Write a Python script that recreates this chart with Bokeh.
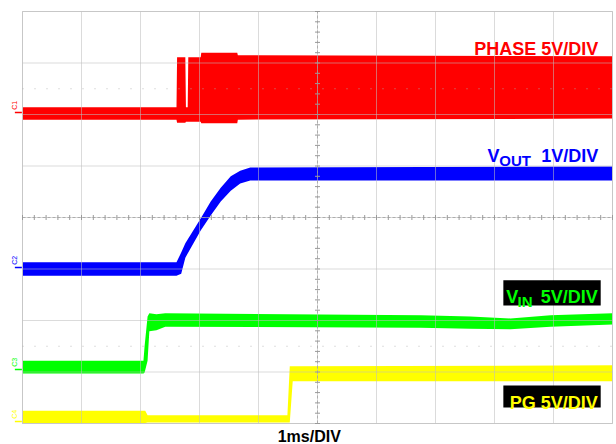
import numpy as np
from bokeh.plotting import figure
from bokeh.models import Label, BoxAnnotation, Range1d
from bokeh.embed import file_html
from bokeh.resources import INLINE

# ---- data (time in ms, 1 ms/div; vertical in screen divisions) ----
phase_t  = [0, 2.61, 2.62, 2.76, 2.77, 2.80, 2.81, 3.02, 3.03, 3.64, 3.65, 10]
phase_hi = [2.14, 2.14, 3.11, 3.11, 2.14, 2.14, 3.11, 3.11, 3.20, 3.20, 3.15, 3.13]
phase_lo = [1.90, 1.90, 1.84, 1.84, 1.86, 1.86, 1.86, 1.86, 1.83, 1.83, 1.90, 1.92]

vout_t  = [0, 2.61, 2.69, 2.76, 3.02, 3.19, 3.36, 3.53, 3.69, 3.86, 10]
vout_hi = [-0.87, -0.87, -0.68, -0.50, -0.02, 0.31, 0.58, 0.80, 0.91, 0.97, 0.99]
vout_lo = [-1.13, -1.13, -1.09, -0.78, -0.25, 0.04, 0.31, 0.52, 0.66, 0.72, 0.72]

vin_t  = [0, 2.05, 2.07, 2.12, 2.15, 2.27, 2.42, 6.75, 7.59, 8.27, 8.95, 10]
vin_hi = [-2.78, -2.78, -2.49, -1.92, -1.86, -1.88, -1.86, -1.90, -1.92, -1.96, -1.90, -1.86]
vin_lo = [-3.03, -3.03, -3.01, -2.78, -2.21, -2.19, -2.12, -2.14, -2.16, -2.17, -2.12, -2.08]

pg_t  = [0, 2.08, 2.12, 4.49, 4.53, 4.58, 10]
pg_hi = [-3.75, -3.75, -3.84, -3.84, -2.89, -2.89, -2.87]
pg_lo = [-3.99, -3.99, -3.98, -3.98, -3.98, -3.18, -3.18]

x_div = np.arange(0, 11)      # 10 horizontal divisions
y_div = np.arange(-4, 5)      # 8 vertical divisions

RED, BLUE, GREEN, YELLOW = "#ff0000", "#0000ff", "#00ff00", "#ffff00"
FONT = "Liberation Sans"

p = figure(width=616, height=444,
           x_range=Range1d(-22 / 59, 10 + 4 / 59),
           y_range=Range1d(-4 - 21 / 51.5, 4 + 11 / 51.5),
           x_axis_type=None, y_axis_type=None, output_backend="svg",
           toolbar_location=None, min_border=0,
           background_fill_color="white", border_fill_color="white",
           outline_line_color=None)
p.xgrid.visible = False
p.ygrid.visible = False

# traces
p.varea(x=phase_t, y1=phase_lo, y2=phase_hi, fill_color=RED)
p.varea(x=vout_t, y1=vout_lo, y2=vout_hi, fill_color=BLUE)
p.varea(x=vin_t, y1=vin_lo, y2=vin_hi, fill_color=GREEN)
p.varea(x=pg_t, y1=pg_lo, y2=pg_hi, fill_color=YELLOW)

# scope graticule drawn over the traces
GRID = "#bdbdbd"
p.segment(x0=x_div, y0=np.full(len(x_div), -4.0), x1=x_div, y1=np.full(len(x_div), 4.0),
          line_color=GRID, line_alpha=0.55, line_width=1)
p.segment(x0=np.zeros(len(y_div)), y0=y_div, x1=np.full(len(y_div), 10.0), y1=y_div,
          line_color=GRID, line_alpha=0.55, line_width=1)
# outer frame a bit stronger
p.segment(x0=[0, 10, 0, 0], y0=[-4, -4, -4, 4], x1=[0, 10, 10, 10], y1=[4, 4, -4, 4],
          line_color="#c4c4c4", line_alpha=0.9)
# centre axes (dashed) with minor ticks
p.segment(x0=[5, 0], y0=[-4, 0], x1=[5, 10], y1=[4, 0],
          line_color="#9a9a9a", line_dash="3 2", line_alpha=0.7)
p.segment(x0=[0, 0], y0=[2.5, -2.5], x1=[10, 10], y1=[2.5, -2.5],
          line_color="#b0b0b0", line_dash="1 11", line_alpha=0.8)

tx = np.arange(0, 10.001, 0.2)
ty = np.arange(-4, 4.001, 0.2)
p.scatter(x=tx, y=np.zeros_like(tx), marker="dash", angle=np.pi / 2, size=5,
          line_color="#9a9a9a")
p.scatter(x=np.full_like(ty, 5.0), y=ty, marker="dash", size=5, line_color="#9a9a9a")

# label boxes
p.add_layout(BoxAnnotation(left=8.15, right=9.80, top=-1.22, bottom=-1.71,
                           fill_color="black", fill_alpha=1, line_color=None, level="overlay"))
p.add_layout(BoxAnnotation(left=8.15, right=9.80, top=-3.26, bottom=-3.69,
                           fill_color="black", fill_alpha=1, line_color=None, level="overlay"))


def lab(x, y, text, color, size="18px", align="left", **kw):
    p.add_layout(Label(x=x, y=y, text=text, text_color=color, text_font=FONT,
                       text_font_style="bold", text_font_size=size, text_align=align,
                       text_baseline="alphabetic", level="overlay", **kw))


lab(9.76, 3.28, "PHASE 5V/DIV", RED, align="right")
lab(7.88, 1.20, "V", BLUE)
lab(8.08, 1.11, "OUT", BLUE, size="15px")
lab(9.76, 1.20, "1V/DIV", BLUE, align="right")
lab(8.20, -1.55, "V", GREEN)
lab(8.39, -1.63, "IN", GREEN, size="15px")
lab(9.75, -1.55, "5V/DIV", GREEN, align="right")
lab(9.75, -3.61, "PG 5V/DIV", YELLOW, align="right")
lab(4.86, -4.25, "1ms/DIV", "black", size="16px", align="center")

# channel markers on the left edge
mark_y = [2.12, -0.89, -2.87, -3.88]
mark_t = ["C1", "C2", "C3", "C4"]
mark_c = [RED, BLUE, GREEN, YELLOW]
for yv, t, c in zip(mark_y, mark_t, mark_c):
    p.add_layout(Label(x=-0.13, y=yv + 0.06, text=t, text_color=c, text_font=FONT,
                       text_font_size="7px", angle=np.pi / 2, text_align="center",
                       text_baseline="middle", level="overlay"))
p.scatter(x=np.full(4, -0.07), y=np.array(mark_y) - 0.08, marker="dash", size=7,
          line_color=mark_c, line_width=1.5)

open("out.html", "w").write(file_html(p, INLINE))
